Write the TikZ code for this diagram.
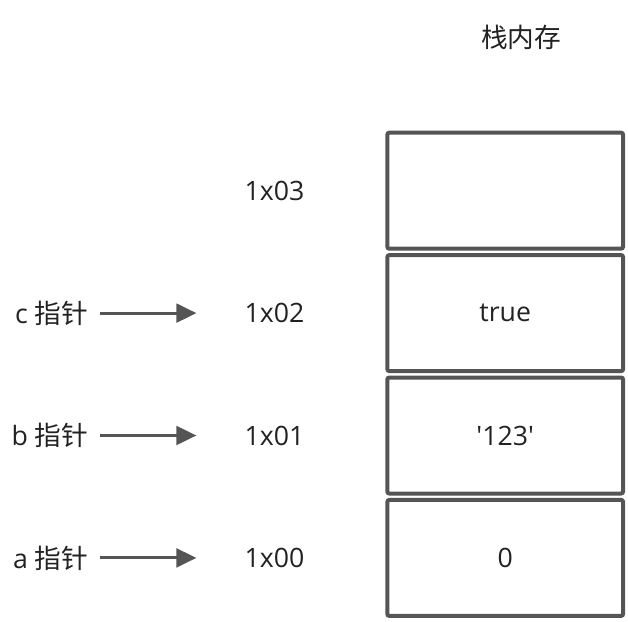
\documentclass[tikz,border=0pt]{standalone}
\usepackage{fontspec}
\setmainfont{Open Sans}
\newfontfamily\rawfont{Open Sans}
\newfontfamily\cjk{Noto Sans CJK SC}
\usepackage{tikz}
\usetikzlibrary{arrows.meta,positioning}
\definecolor{memedge}{RGB}{85,85,85}
\definecolor{memink}{RGB}{34,34,34}
\tikzset{
  cell/.style={
    draw=memedge, line width=3pt, rounded corners=1.5pt, outer sep=0pt,
    minimum width=176.8pt, minimum height=87pt, inner sep=0pt,
    align=center, font=\fontsize{20}{24}\selectfont, text=memink
  },
  addr/.style={font=\fontsize{20}{24}\selectfont, text=memink, inner sep=0pt},
  ptr/.style={addr},
  arr/.style={
    -{Triangle[length=15pt,width=14pt]}, draw=memedge, line width=2.25pt,
    shorten <=9pt, shorten >=36pt
  }
}

\begin{document}
\begin{tikzpicture}[x=0.75pt, y=-0.75pt, node distance=4.8pt and 62pt]
  \useasboundingbox (0,0) rectangle (628,621);
  % stack
  \node[addr] (title) at (521,37) {\cjk 栈内存};
  \node[cell] (m3) at (505.2,190.7) {};
  \node[cell, below=of m3] (m2) {true};
  \node[cell, below=of m2] (m1) {\rawfont '123'};
  \node[cell, below=of m1] (m0) {0};
  % addresses
  \node[addr, left=of m3] (addr3) {1x03};
  \node[addr, left=of m2] (addr2) {1x02};
  \node[addr, left=of m1] (addr1) {1x01};
  \node[addr, left=of m0] (addr0) {1x00};
  % pointers
  \node[ptr, left=117pt of addr2] (pc) {c {\cjk 指针}};
  \node[ptr, left=117pt of addr1] (pb) {b {\cjk 指针}};
  \node[ptr, left=117pt of addr0] (pa) {a {\cjk 指针}};
  \draw[arr] (pc) -- (addr2);
  \draw[arr] (pb) -- (addr1);
  \draw[arr] (pa) -- (addr0);
\end{tikzpicture}
\end{document}
